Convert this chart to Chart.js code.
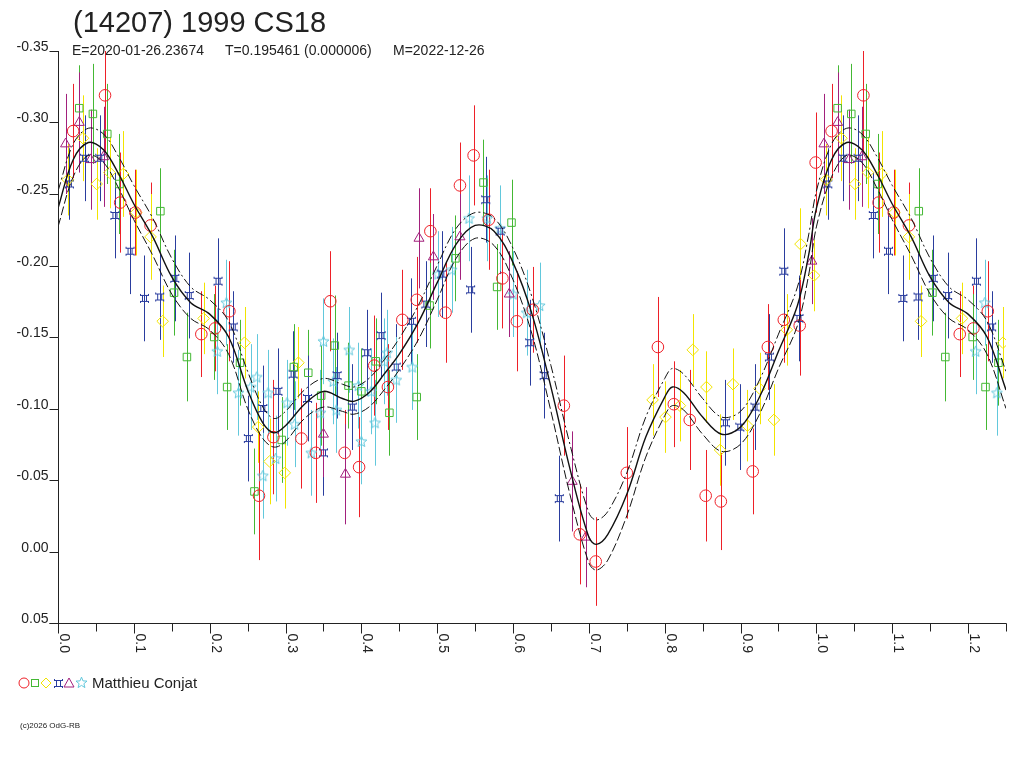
<!DOCTYPE html>
<html>
<head>
<meta charset="utf-8">
<title>(14207) 1999 CS18</title>
<script src="https://cdn.jsdelivr.net/npm/chart.js@4.4.1/dist/chart.umd.min.js"></script>
<style>
  html, body { margin: 0; padding: 0; background: #fff; }
  canvas { display: block; }
</style>
</head>
<body>
<canvas id="myChart" width="1024" height="768"></canvas>
<script>
// header texts
var titleText = "(14207) 1999 CS18";
var subE = "E=2020-01-26.23674";
var subT = "T=0.195461 (0.000006)";
var subM = "M=2022-12-26";
var observer = "Matthieu Conjat";
var copyText = "(c)2026 OdG-RB";

// axis labels
var xTickLabels = ["0.0","0.1","0.2","0.3","0.4","0.5","0.6","0.7","0.8","0.9","1.0","1.1","1.2"];
var xMinorTicks = [0.05,0.15,0.25,0.35,0.45,0.55,0.65,0.75,0.85,0.95,1.05,1.15,1.25];
var yTickLabels = ["-0.35","-0.30","-0.25","-0.20","-0.15","-0.10","-0.05","0.00","0.05"];

// fitted curve (phase 0..1), with its two envelope lines
var fitPhase = [0,0.02,0.04,0.06,0.08,0.10,0.125,0.15,0.175,0.20,0.225,0.25,0.27,0.285,0.30,0.325,0.35,0.375,0.39,0.41,0.43,0.45,0.475,0.50,0.525,0.55,0.575,0.60,0.625,0.65,0.675,0.70,0.71,0.725,0.75,0.775,0.80,0.81,0.825,0.85,0.875,0.90,0.925,0.95,0.975,0.99,1.0];
var fitMag = [-0.240,-0.274,-0.286,-0.281,-0.264,-0.243,-0.220,-0.192,-0.174,-0.166,-0.150,-0.113,-0.090,-0.083,-0.088,-0.103,-0.112,-0.107,-0.105,-0.111,-0.124,-0.138,-0.160,-0.188,-0.215,-0.228,-0.224,-0.202,-0.166,-0.115,-0.058,-0.010,-0.005,-0.012,-0.040,-0.080,-0.108,-0.115,-0.111,-0.094,-0.082,-0.087,-0.108,-0.140,-0.172,-0.208,-0.240];
var fitHi = [-0.252,-0.285,-0.296,-0.292,-0.276,-0.256,-0.233,-0.205,-0.185,-0.176,-0.161,-0.126,-0.101,-0.093,-0.098,-0.113,-0.121,-0.117,-0.115,-0.121,-0.134,-0.149,-0.172,-0.200,-0.226,-0.237,-0.233,-0.212,-0.178,-0.130,-0.075,-0.027,-0.022,-0.028,-0.055,-0.094,-0.121,-0.128,-0.124,-0.107,-0.094,-0.098,-0.120,-0.152,-0.185,-0.222,-0.252];
var fitLo = [-0.227,-0.262,-0.277,-0.272,-0.254,-0.232,-0.207,-0.180,-0.163,-0.155,-0.138,-0.100,-0.079,-0.073,-0.077,-0.093,-0.101,-0.098,-0.096,-0.101,-0.113,-0.127,-0.148,-0.176,-0.205,-0.219,-0.214,-0.190,-0.152,-0.098,-0.040,0.008,0.013,0.006,-0.025,-0.066,-0.095,-0.102,-0.099,-0.082,-0.070,-0.075,-0.096,-0.128,-0.158,-0.194,-0.227];

// sessions: phase, magnitude, error
var redPhase = [0.020,0.062,0.082,0.102,0.122,0.189,0.207,0.226,0.265,0.284,0.321,0.340,0.359,0.378,0.397,0.417,0.435,0.454,0.473,0.491,0.511,0.530,0.548,0.568,0.586,0.605,0.626,0.667,0.688,0.709,0.750,0.791,0.812,0.833,0.854,0.874,0.916,0.936,0.957,0.978,0.999];
var redMag = [-0.294,-0.319,-0.244,-0.237,-0.228,-0.152,-0.156,-0.168,-0.039,-0.080,-0.079,-0.069,-0.175,-0.069,-0.059,-0.130,-0.115,-0.162,-0.176,-0.224,-0.167,-0.256,-0.277,-0.232,-0.191,-0.161,-0.169,-0.102,-0.012,0.007,-0.055,-0.143,-0.103,-0.092,-0.039,-0.035,-0.056,-0.143,-0.162,-0.158,-0.272];
var redErr = [0.033,0.040,0.035,0.030,0.030,0.030,0.030,0.035,0.045,0.040,0.035,0.035,0.035,0.030,0.035,0.035,0.030,0.035,0.030,0.030,0.035,0.030,0.035,0.035,0.035,0.035,0.030,0.035,0.035,0.031,0.032,0.035,0.030,0.035,0.032,0.034,0.030,0.030,0.030,0.035,0.035];

var greenPhase = [0.028,0.046,0.065,0.081,0.135,0.153,0.170,0.206,0.223,0.240,0.259,0.295,0.311,0.330,0.347,0.365,0.383,0.400,0.419,0.437,0.473,0.490,0.524,0.561,0.579,0.598];
var greenMag = [-0.310,-0.306,-0.292,-0.257,-0.238,-0.181,-0.136,-0.150,-0.115,-0.132,-0.042,-0.078,-0.129,-0.125,-0.109,-0.144,-0.116,-0.112,-0.133,-0.097,-0.108,-0.172,-0.205,-0.258,-0.185,-0.230];
var greenErr = [0.030,0.035,0.035,0.035,0.030,0.030,0.031,0.030,0.030,0.030,0.030,0.030,0.030,0.030,0.035,0.035,0.030,0.030,0.030,0.030,0.030,0.030,0.030,0.030,0.030,0.030];

var yellowPhase = [0.013,0.033,0.051,0.068,0.086,0.103,0.122,0.138,0.192,0.246,0.264,0.279,0.299,0.317,0.784,0.801,0.820,0.837,0.855,0.873,0.890,0.909,0.925,0.944,0.961,0.979,0.997];
var yellowMag = [-0.260,-0.289,-0.257,-0.265,-0.264,-0.237,-0.220,-0.161,-0.163,-0.146,-0.087,-0.063,-0.055,-0.132,-0.106,-0.094,-0.102,-0.141,-0.115,-0.071,-0.117,-0.088,-0.114,-0.092,-0.155,-0.215,-0.193];
var yellowErr = [0.025,0.030,0.025,0.025,0.030,0.030,0.030,0.025,0.025,0.025,0.025,0.030,0.025,0.025,0.025,0.025,0.025,0.025,0.025,0.025,0.025,0.025,0.025,0.025,0.025,0.025,0.025];

var bluePhase = [0.015,0.035,0.055,0.075,0.095,0.114,0.134,0.154,0.173,0.211,0.231,0.251,0.270,0.290,0.310,0.329,0.350,0.368,0.388,0.407,0.426,0.446,0.466,0.485,0.506,0.544,0.564,0.583,0.622,0.641,0.661,0.880,0.899,0.919,0.938,0.957,0.977];
var blueMag = [-0.257,-0.275,-0.275,-0.235,-0.210,-0.177,-0.178,-0.191,-0.179,-0.189,-0.157,-0.079,-0.100,-0.112,-0.124,-0.107,-0.069,-0.123,-0.101,-0.139,-0.151,-0.129,-0.161,-0.173,-0.194,-0.183,-0.246,-0.224,-0.146,-0.123,-0.037,-0.090,-0.087,-0.101,-0.136,-0.196,-0.163];
var blueErr = [0.025,0.030,0.030,0.030,0.030,0.030,0.030,0.030,0.030,0.030,0.025,0.030,0.030,0.030,0.030,0.030,0.030,0.030,0.030,0.030,0.030,0.030,0.030,0.030,0.030,0.030,0.030,0.030,0.030,0.030,0.030,0.030,0.030,0.030,0.030,0.030,0.030];

var purplePhase = [0.010,0.028,0.043,0.060,0.350,0.379,0.476,0.495,0.530,0.595,0.678,0.696,0.994];
var purpleMag = [-0.285,-0.300,-0.274,-0.276,-0.082,-0.054,-0.219,-0.206,-0.220,-0.180,-0.049,-0.010,-0.203];
var purpleErr = [0.035,0.035,0.035,0.035,0.030,0.035,0.035,0.030,0.030,0.030,0.035,0.035,0.030];

var cyanPhase = [0.210,0.222,0.238,0.254,0.262,0.270,0.277,0.287,0.302,0.312,0.334,0.346,0.350,0.363,0.367,0.384,0.396,0.400,0.413,0.418,0.430,0.434,0.446,0.467,0.501,0.519,0.542,0.566,0.583,0.600,0.618,0.635];
var cyanMag = [-0.140,-0.174,-0.111,-0.115,-0.122,-0.053,-0.111,-0.065,-0.104,-0.089,-0.069,-0.097,-0.147,-0.119,-0.099,-0.141,-0.116,-0.077,-0.112,-0.090,-0.133,-0.139,-0.120,-0.129,-0.194,-0.197,-0.233,-0.233,-0.226,-0.180,-0.167,-0.172];
var cyanErr = [0.030,0.030,0.030,0.030,0.030,0.030,0.030,0.030,0.030,0.030,0.030,0.030,0.030,0.030,0.030,0.030,0.030,0.030,0.030,0.030,0.030,0.030,0.030,0.030,0.030,0.030,0.030,0.030,0.030,0.030,0.030,0.030];

var red = "#ee2028", green = "#44b834", yellow = "#f2e400", blue = "#2a3d9e", purple = "#a2207c", cyan = "#62c8dc";
var font = "'Liberation Sans', Arial, sans-serif";

// the plot repeats phases 0..0.25 after 1.0
function points(ph, mag, err) {
  var out = [];
  for (var i = 0; i < ph.length; i++) out.push({x: ph[i], y: mag[i], e: err ? err[i] : 0});
  for (var j = 0; j < ph.length; j++) {
    if (ph[j] > 0 && ph[j] <= 0.25) out.push({x: ph[j] + 1, y: mag[j], e: err ? err[j] : 0});
  }
  out.sort(function(a, b) { return a.x - b.x; });
  return out;
}

function marker(size, draw) {
  var c = document.createElement("canvas");
  c.width = size; c.height = size;
  var g = c.getContext("2d");
  draw(g, size);
  return c;
}
var blueMarker = marker(11, function(g) {
  g.strokeStyle = blue; g.lineWidth = 1;
  g.beginPath();
  g.moveTo(1.5, 2.5); g.lineTo(9.5, 2.5);
  g.moveTo(1.5, 8.5); g.lineTo(9.5, 8.5);
  g.moveTo(3.5, 2.5); g.lineTo(3.5, 8.5);
  g.moveTo(7.5, 2.5); g.lineTo(7.5, 8.5);
  g.moveTo(1.5, 1); g.lineTo(1.5, 3);
  g.moveTo(9.5, 1); g.lineTo(9.5, 3);
  g.moveTo(1.5, 8); g.lineTo(1.5, 10);
  g.moveTo(9.5, 8); g.lineTo(9.5, 10);
  g.stroke();
});
var starMarker = marker(13, function(g) {
  g.strokeStyle = cyan; g.lineWidth = 1;
  g.beginPath();
  for (var k = 0; k < 10; k++) {
    var r = k % 2 ? 2.5 : 5.8;
    var a = -Math.PI / 2 + k * Math.PI / 5;
    var px = 6.5 + r * Math.cos(a), py = 6.9 + r * Math.sin(a);
    if (k === 0) g.moveTo(px, py); else g.lineTo(px, py);
  }
  g.closePath();
  g.stroke();
});

function fitLine(mags, dash, width) {
  return {
    type: "line", data: points(fitPhase, mags), showLine: true,
    borderColor: "#111", borderWidth: width, borderDash: dash,
    pointRadius: 0, tension: 0.35, fill: false, order: 0
  };
}
function obsSet(ph, mag, err, color, style, r) {
  return {
    data: points(ph, mag, err), errors: true,
    borderColor: color, backgroundColor: "rgba(0,0,0,0)", borderWidth: 1,
    pointStyle: style, pointRadius: r, pointHoverRadius: r, order: 1
  };
}

var errorBars = {
  id: "errorBars",
  beforeDatasetsDraw: function(chart) {
    var ctx = chart.ctx, a = chart.chartArea;
    var xs = chart.scales.x, ys = chart.scales.y;
    ctx.save();
    ctx.beginPath();
    ctx.rect(a.left, a.top, a.right - a.left, a.bottom - a.top);
    ctx.clip();
    ctx.lineWidth = 1;
    chart.data.datasets.forEach(function(ds) {
      if (!ds.errors) return;
      ctx.strokeStyle = ds.borderColor;
      ds.data.forEach(function(p) {
        var x = Math.round(xs.getPixelForValue(p.x)) + 0.5;
        ctx.beginPath();
        ctx.moveTo(x, ys.getPixelForValue(p.y - p.e));
        ctx.lineTo(x, ys.getPixelForValue(p.y + p.e));
        ctx.stroke();
      });
    });
    ctx.restore();
  }
};

var frame = {
  id: "frame",
  afterDraw: function(chart) {
    var ctx = chart.ctx, a = chart.chartArea;
    var xs = chart.scales.x, ys = chart.scales.y;
    var left = Math.round(a.left) + 0.5, bottom = Math.round(a.bottom) + 0.5;
    ctx.save();
    ctx.strokeStyle = "#222"; ctx.fillStyle = "#222"; ctx.lineWidth = 1;
    ctx.beginPath();
    ctx.moveTo(left, Math.round(a.top)); ctx.lineTo(left, bottom);
    ctx.moveTo(left - 9, bottom); ctx.lineTo(Math.round(a.right) + 0.5, bottom);
    ctx.stroke();

    // y ticks, label sits on the tick line
    ctx.font = "14px " + font;
    ctx.textAlign = "right"; ctx.textBaseline = "alphabetic";
    yTickLabels.forEach(function(t) {
      var y = Math.round(ys.getPixelForValue(parseFloat(t))) + 0.5;
      ctx.beginPath(); ctx.moveTo(left - 9, y); ctx.lineTo(left, y); ctx.stroke();
      ctx.fillText(t, left - 10, y - 1);
    });

    // x ticks, labels turned clockwise
    xMinorTicks.forEach(function(v) {
      var x = Math.round(xs.getPixelForValue(v)) + 0.5;
      ctx.beginPath(); ctx.moveTo(x, bottom); ctx.lineTo(x, bottom + 8); ctx.stroke();
    });
    xTickLabels.forEach(function(t) {
      var x = Math.round(xs.getPixelForValue(parseFloat(t))) + 0.5;
      ctx.beginPath(); ctx.moveTo(x, bottom); ctx.lineTo(x, bottom + 10); ctx.stroke();
      ctx.save();
      ctx.translate(x + 1, bottom + 10);
      ctx.rotate(Math.PI / 2);
      ctx.textAlign = "left"; ctx.textBaseline = "alphabetic";
      ctx.fillText(t, 0, 0);
      ctx.restore();
    });

    // titles
    ctx.textAlign = "left";
    ctx.font = "29px " + font;
    ctx.fillText(titleText, 73, 32);
    ctx.font = "14px " + font;
    ctx.fillText(subE, 72, 55);
    ctx.fillText(subT, 225, 55);
    ctx.fillText(subM, 393, 55);

    // legend row
    var ly = 683;
    ctx.lineWidth = 1;
    ctx.strokeStyle = red;
    ctx.beginPath(); ctx.arc(24, ly, 5, 0, Math.PI * 2); ctx.stroke();
    ctx.strokeStyle = green;
    ctx.strokeRect(31.5, ly - 3.5, 7, 7);
    ctx.strokeStyle = yellow;
    ctx.beginPath(); ctx.moveTo(46, ly - 5); ctx.lineTo(51, ly); ctx.lineTo(46, ly + 5); ctx.lineTo(41, ly); ctx.closePath(); ctx.stroke();
    ctx.drawImage(blueMarker, 53, ly - 5);
    ctx.strokeStyle = purple;
    ctx.beginPath(); ctx.moveTo(69, ly - 5); ctx.lineTo(74, ly + 4); ctx.lineTo(64, ly + 4); ctx.closePath(); ctx.stroke();
    ctx.drawImage(starMarker, 75, ly - 7);
    ctx.fillStyle = "#222";
    ctx.font = "15px " + font;
    ctx.fillText(observer, 92, 688);
    ctx.font = "8px " + font;
    ctx.fillText(copyText, 20, 728);
    ctx.restore();
  }
};

new Chart("myChart", {
  type: "scatter",
  data: {
    datasets: [
      fitLine(fitMag, [], 1.4),
      fitLine(fitHi, [9, 3, 2, 3], 1),
      fitLine(fitLo, [9, 3], 1),
      obsSet(redPhase, redMag, redErr, red, "circle", 5.8),
      obsSet(greenPhase, greenMag, greenErr, green, "rect", 5.3),
      obsSet(yellowPhase, yellowMag, yellowErr, yellow, "rectRot", 5.8),
      obsSet(bluePhase, blueMag, blueErr, blue, blueMarker, 5),
      obsSet(purplePhase, purpleMag, purpleErr, purple, "triangle", 5.8),
      obsSet(cyanPhase, cyanMag, cyanErr, cyan, starMarker, 6)
    ]
  },
  options: {
    responsive: false,
    devicePixelRatio: 1,
    animation: false,
    layout: { padding: { left: 58, right: 18, top: 51, bottom: 145 } },
    plugins: { legend: { display: false }, tooltip: { enabled: false } },
    scales: {
      x: { type: "linear", min: 0, max: 1.25, display: false },
      y: { type: "linear", min: -0.35, max: 0.05, reverse: true, display: false }
    }
  },
  plugins: [errorBars, frame]
});
</script>
</body>
</html>
